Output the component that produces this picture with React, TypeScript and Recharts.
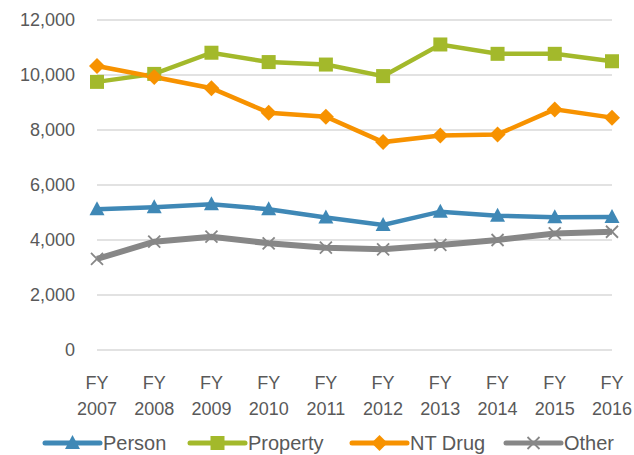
import { CartesianGrid, Legend, Line, LineChart, XAxis, YAxis } from "recharts";

const YEARS = ["2007", "2008", "2009", "2010", "2011", "2012", "2013", "2014", "2015", "2016"];
const PERSON = [5120, 5190, 5300, 5120, 4820, 4550, 5030, 4880, 4830, 4840];
const PROPERTY = [9750, 10040, 10810, 10470, 10380, 9960, 11110, 10770, 10770, 10500];
const NT_DRUG = [10330, 9930, 9520, 8630, 8480, 7560, 7800, 7840, 8750, 8450];
const OTHER = [3310, 3940, 4120, 3880, 3720, 3660, 3820, 4000, 4240, 4300];
const Y_TICKS = [0, 2000, 4000, 6000, 8000, 10000, 12000];

const FONT = "'Liberation Sans', Arial, sans-serif";
const TEXT_COLOR = "#595959";

const SERIES = [
  { key: "person", name: "Person", color: "#3F88B6", shape: "triangle" },
  { key: "property", name: "Property", color: "#A3B92B", shape: "square" },
  { key: "drug", name: "NT Drug", color: "#F79200", shape: "diamond" },
  { key: "other", name: "Other", color: "#878787", shape: "cross" },
];

const data = YEARS.map((y, i) => ({
  year: y,
  person: PERSON[i],
  property: PROPERTY[i],
  drug: NT_DRUG[i],
  other: OTHER[i],
}));

function Marker({ shape, color, cx, cy }: { shape: string; color: string; cx: number; cy: number }) {
  if (shape === "triangle") {
    return <polygon points={`${cx},${cy - 8} ${cx + 7.5},${cy + 6} ${cx - 7.5},${cy + 6}`} fill={color} />;
  }
  if (shape === "square") {
    return <rect x={cx - 7} y={cy - 7} width={14} height={14} fill={color} />;
  }
  if (shape === "diamond") {
    return <polygon points={`${cx},${cy - 8} ${cx + 8},${cy} ${cx},${cy + 8} ${cx - 8},${cy}`} fill={color} />;
  }
  return (
    <g stroke={color} strokeWidth={1.8}>
      <line x1={cx - 6} y1={cy - 6} x2={cx + 6} y2={cy + 6} />
      <line x1={cx - 6} y1={cy + 6} x2={cx + 6} y2={cy - 6} />
    </g>
  );
}

function YearTick({ x, y, payload }: any) {
  return (
    <text x={x} y={y} textAnchor="middle" fill={TEXT_COLOR} fontSize={18} fontFamily={FONT}>
      <tspan x={x} dy={31}>FY</tspan>
      <tspan x={x} dy={26}>{payload.value}</tspan>
    </text>
  );
}

function LegendContent() {
  const xs = [45, 190, 352, 506];
  return (
    <svg width={634} height={30} style={{ display: "block" }}>
      {SERIES.map((s, i) => (
        <g key={s.key}>
          <line x1={xs[i]} y1={18} x2={xs[i] + 55} y2={18} stroke={s.color} strokeWidth={5} strokeLinecap="round" />
          <Marker shape={s.shape} color={s.color} cx={xs[i] + 27.5} cy={18} />
          <text x={xs[i] + 58} y={25} fill={TEXT_COLOR} fontSize={20} fontFamily={FONT}>
            {s.name}
          </text>
        </g>
      ))}
    </svg>
  );
}

export default function App() {
  return (
    <div style={{ position: "absolute", left: 0, top: 0, background: "#fff" }}>
      <LineChart width={634} height={455} data={data} margin={{ top: 20, right: 22, bottom: 0, left: 0 }}>
        <CartesianGrid vertical={false} stroke="#D9D9D9" strokeWidth={1.3} />
        <XAxis
          dataKey="year"
          axisLine={false}
          tickLine={false}
          tick={<YearTick />}
          height={75}
          interval={0}
        />
        <YAxis
          domain={[0, 12000]}
          ticks={Y_TICKS}
          width={97}
          axisLine={false}
          tickLine={false}
          tickSize={0}
          tickMargin={22}
          tick={{ fontSize: 18, fill: TEXT_COLOR, fontFamily: FONT }}
          tickFormatter={(v: number) => v.toLocaleString("en-US")}
        />
        <Legend verticalAlign="bottom" wrapperStyle={{ left: 0, bottom: 0, lineHeight: 0 }} content={<LegendContent />} />
        {SERIES.map((s) => (
          <Line
            key={s.key}
            dataKey={s.key}
            name={s.name}
            stroke={s.color}
            strokeWidth={s.key === "other" ? 6 : 4.5}
            type="linear"
            isAnimationActive={false}
            dot={(p: any) => (
              <g key={`${s.key}-${p.index}`}>
                <Marker shape={s.shape} color={s.color} cx={p.cx} cy={p.cy} />
              </g>
            )}
            activeDot={false}
          />
        ))}
      </LineChart>
    </div>
  );
}
